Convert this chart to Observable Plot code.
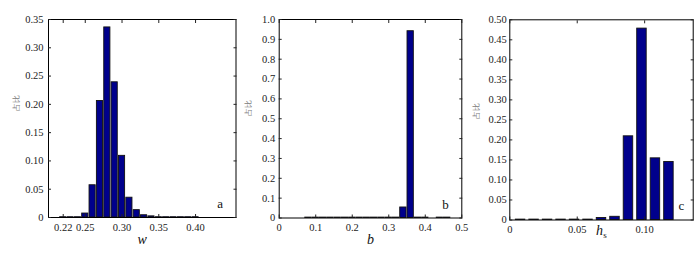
<!DOCTYPE html>
<html><head><meta charset="utf-8">
<script src="https://cdn.jsdelivr.net/npm/d3@7"></script>
<script src="https://cdn.jsdelivr.net/npm/@observablehq/plot@0.6"></script>
<style>
html,body{margin:0;padding:0;background:#fff;}
#chart{position:relative;width:700px;height:254px;overflow:hidden;}
#chart svg{position:absolute;top:0;}
#chart svg text{font-family:'Liberation Serif','DejaVu Serif',serif;}
#chart svg text.cjk{font-family:'Noto Sans CJK SC',sans-serif;}
</style></head><body><div id="chart"></div>
<script>
// Panel a: w
const wCenters = [0.22,0.23,0.24,0.25,0.26,0.27,0.28,0.29,0.30,0.31,0.32,0.33,0.34,0.35,0.36,0.37,0.38,0.39,0.40];
const wShares  = [0.0005,0.0005,0.0005,0.007,0.057,0.206,0.336,0.239,0.109,0.035,0.013,0.004,0.002,0.0005,0.0005,0.0005,0.0005,0.0005,0.0005];
const wXTicks = [0.22,0.25,0.30,0.35,0.40];
const wXTickLabels = ["0.22","0.25","0.30","0.35","0.40"];
const wYTicks = [0,0.05,0.10,0.15,0.20,0.25,0.30,0.35];
const wYTickLabels = ["0","0.05","0.10","0.15","0.20","0.25","0.30","0.35"];

// Panel b: b
const bCenters = [0.08,0.10,0.12,0.14,0.16,0.18,0.20,0.22,0.24,0.26,0.28,0.30,0.32,0.34,0.36,0.38,0.40,0.44,0.46];
const bShares  = [0.002,0.002,0.002,0.002,0.002,0.002,0.002,0.002,0.002,0.002,0.002,0.002,0.002,0.053,0.941,0.002,0.002,0.002,0.002];
const bXTicks = [0,0.1,0.2,0.3,0.4,0.5];
const bXTickLabels = ["0","0.1","0.2","0.3","0.4","0.5"];
const bYTicks = [0,0.1,0.2,0.3,0.4,0.5,0.6,0.7,0.8,0.9,1.0];
const bYTickLabels = ["0","0.1","0.2","0.3","0.4","0.5","0.6","0.7","0.8","0.9","1.0"];

// Panel c: hs
const hCenters = [0.008,0.018,0.028,0.038,0.048,0.058,0.068,0.078,0.088,0.098,0.108,0.118];
const hShares  = [0.001,0.001,0.001,0.001,0.001,0.001,0.005,0.008,0.209,0.478,0.154,0.145];
const hXTicks = [0,0.05,0.10];
const hXTickLabels = ["0","0.05","0.10"];
const hYTicks = [0,0.05,0.10,0.15,0.20,0.25,0.30,0.35,0.40,0.45,0.50];
const hYTickLabels = ["0","0.05","0.10","0.15","0.20","0.25","0.30","0.35","0.40","0.45","0.50"];

const yLabel = "占比";
const panelLetters = ["a","b","c"];

const serif = "'Liberation Serif', 'DejaVu Serif', serif";

function panel(cfg) {
  const data = cfg.centers.map((c, i) => ({c, v: cfg.shares[i]}));
  const xMap = new Map(cfg.xTicks.map((t, i) => [t, cfg.xTickLabels[i]]));
  const yMap = new Map(cfg.yTicks.map((t, i) => [t, cfg.yTickLabels[i]]));
  const bw = cfg.binWidth;
  const marks = [
    Plot.rectY(data, {x1: d => d.c - bw / 2, x2: d => d.c + bw / 2, y: "v",
      fill: "#00008c", stroke: "#111", strokeWidth: 0.9,
      insetLeft: cfg.inset, insetRight: cfg.inset}),
    Plot.frame({stroke: "#000", strokeWidth: 1}),
    Plot.axisX({anchor: "bottom", ticks: cfg.xTicks, tickFormat: d => xMap.get(d), tickSize: 0, tickPadding: 6, label: null, fill: "#222", fontFamily: serif, fontSize: 10.5}),
    Plot.axisX({anchor: "bottom", ticks: cfg.xTicks, tickFormat: () => "", tickSize: -3, label: null}),
    Plot.axisX({anchor: "top", ticks: cfg.xTicks, tickFormat: () => "", tickSize: -3, label: null}),
    Plot.axisY({anchor: "left", ticks: cfg.yTicks, tickFormat: d => yMap.get(d), tickSize: 0, tickPadding: cfg.yPad, label: null, fill: "#222", fontFamily: serif, fontSize: 10.5}),
    Plot.axisY({anchor: "left", ticks: cfg.yTicks, tickFormat: () => "", tickSize: -3, label: null}),
    Plot.axisY({anchor: "right", ticks: cfg.yTicks, tickFormat: () => "", tickSize: -3, label: null}),
    Plot.text([cfg.letter], {frameAnchor: "bottom-right", dx: cfg.letterDx, dy: cfg.letterDy, fontSize: 13, fill: "#111", fontFamily: serif, text: d => d}),
    Plot.text([yLabel], {frameAnchor: "left", dx: cfg.yLabelDx, dy: cfg.yLabelDy, rotate: -90, fontSize: 8, fill: "#808080",
      fontFamily: "'Noto Sans CJK SC', sans-serif", className: "cjk", text: d => d}),
    ...cfg.xLabelMarks
  ];
  return Plot.plot({
    width: cfg.width, height: 254,
    marginLeft: cfg.ml, marginRight: cfg.mr, marginTop: cfg.mt, marginBottom: cfg.mb,
    x: {domain: cfg.xDomain},
    y: {domain: cfg.yDomain},
    style: "font-family: 'Liberation Serif', 'DejaVu Serif', serif; font-size: 10.5px; color: #222; background: transparent; overflow: visible;",
    marks
  });
}

const chart = document.getElementById("chart");

const pa = panel({
  centers: wCenters, shares: wShares, binWidth: 0.01, inset: 0.6,
  xDomain: [0.2, 0.455], yDomain: [0, 0.35],
  xTicks: wXTicks, xTickLabels: wXTickLabels, yTicks: wYTicks, yTickLabels: wYTickLabels,
  width: 240, ml: 48, mr: 4.5, mt: 19, mb: 37, yPad: 5,
  letter: panelLetters[0], letterDx: -13, letterDy: -10,
  yLabelDx: -32, yLabelDy: -8,
  xLabelMarks: [Plot.text(["w"], {frameAnchor: "bottom", dy: 26, fontSize: 14, fontStyle: "italic", fill: "#111", fontFamily: serif, text: d => d})]
});
pa.style.left = "0px";
chart.appendChild(pa);

const pb = panel({
  centers: bCenters, shares: bShares, binWidth: 0.02, inset: 0.5,
  xDomain: [0, 0.5], yDomain: [0, 1.0],
  xTicks: bXTicks, xTickLabels: bXTickLabels, yTicks: bYTicks, yTickLabels: bYTickLabels,
  width: 230, ml: 38.7, mr: 8.7, mt: 19, mb: 36.5, yPad: 4,
  letter: panelLetters[1], letterDx: -13, letterDy: -9,
  yLabelDx: -31, yLabelDy: -3,
  xLabelMarks: [Plot.text(["b"], {frameAnchor: "bottom", dy: 26, fontSize: 14, fontStyle: "italic", fill: "#111", fontFamily: serif, text: d => d})]
});
pb.style.left = "240px";
chart.appendChild(pb);

const pc = panel({
  centers: hCenters, shares: hShares, binWidth: 0.01, inset: 2,
  xDomain: [0, 0.136], yDomain: [0, 0.5],
  xTicks: hXTicks, xTickLabels: hXTickLabels, yTicks: hYTicks, yTickLabels: hYTickLabels,
  width: 230, ml: 39.3, mr: 7.3, mt: 19.3, mb: 34.5, yPad: 3,
  letter: panelLetters[2], letterDx: -9, letterDy: -10,
  yLabelDx: -33, yLabelDy: -1,
  xLabelMarks: [
    Plot.text(["h"], {frameAnchor: "bottom", dx: -2, dy: 15, fontSize: 14, fontStyle: "italic", fill: "#111", fontFamily: serif, text: d => d}),
    Plot.text(["s"], {frameAnchor: "bottom", dx: 3.5, dy: 18, fontSize: 9, fill: "#111", fontFamily: serif, text: d => d})
  ]
});
pc.style.left = "470px";
chart.appendChild(pc);
</script>
</body></html>
